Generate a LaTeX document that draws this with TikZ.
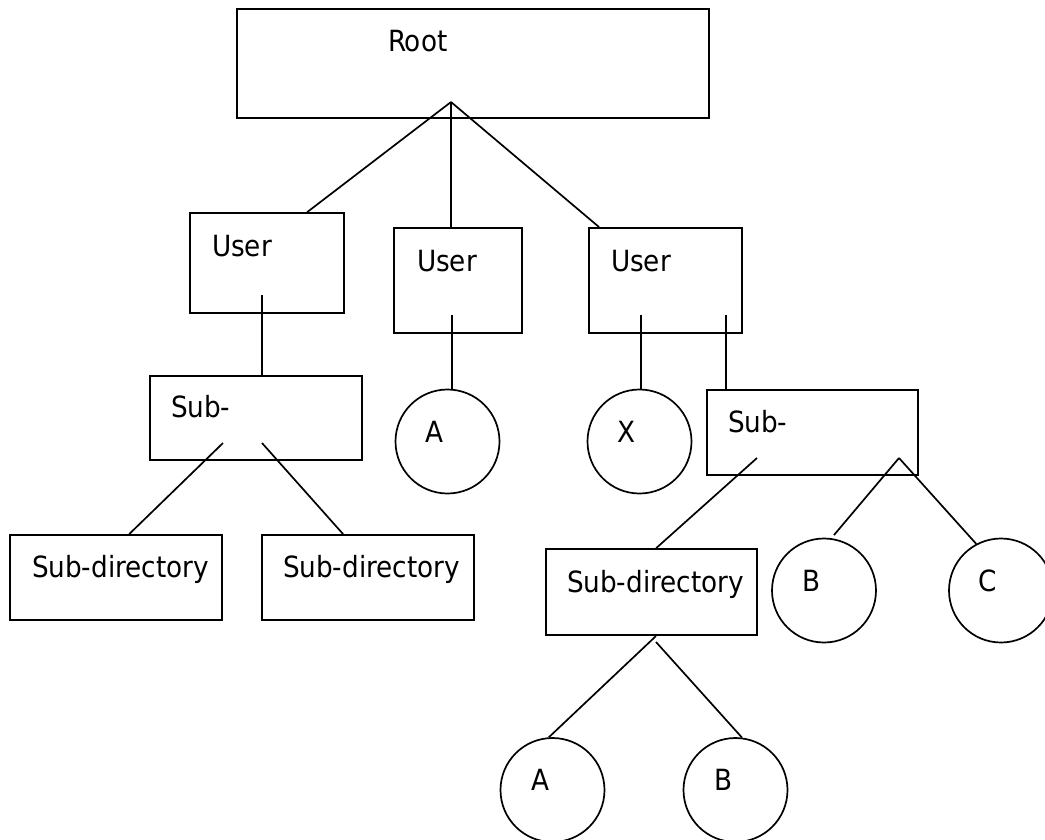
\documentclass[tikz,border=0pt]{standalone}
\usepackage{fontspec}
\setmainfont{DejaVu Sans Condensed}
\usetikzlibrary{calc}
\newcommand{\dirfont}{\fontsize{29.2}{35}\selectfont}

\begin{document}
\begin{tikzpicture}[x=1pt,y=-1pt,line width=1.7pt]
  \tikzstyle{dirbox}=[draw,rectangle,inner sep=0pt]
  \tikzstyle{filecircle}=[draw,circle,inner sep=0pt,minimum size=104pt]
  \tikzstyle{dirlabel}=[anchor=base west,inner sep=0pt,font=\dirfont]
  \tikzstyle{fileletter}=[inner sep=0pt,font=\dirfont]
  \useasboundingbox (0,0) rectangle (1045,839);

  % directories
  \node [dirbox,minimum width=472pt,minimum height=109pt] (root) at (473,63.5) {};
  \node [dirbox,minimum width=154pt,minimum height=100pt] (u1) at (267,263) {};
  \node [dirbox,minimum width=128pt,minimum height=105pt] (u2) at (458,280.5) {};
  \node [dirbox,minimum width=153pt,minimum height=105pt] (u3) at (665.5,280.5) {};
  \node [dirbox,minimum width=212pt,minimum height=84pt] (s1) at (256,418) {};
  \node [dirbox,minimum width=211pt,minimum height=85pt] (s2) at (812.5,432.5) {};
  \node [dirbox,minimum width=212pt,minimum height=85pt] (d1) at (116,577.5) {};
  \node [dirbox,minimum width=212pt,minimum height=85pt] (d2) at (368,577.5) {};
  \node [dirbox,minimum width=211pt,minimum height=86pt] (d3) at (651.5,592) {};

  \node [dirlabel] (root-t) at ($(root.north west)+(151,43)$) {Root};
  \node [dirlabel] (u1-t) at ($(u1.north west)+(22,44)$) {User};
  \node [dirlabel] (u2-t) at ($(u2.north west)+(23,44)$) {User};
  \node [dirlabel] (u3-t) at ($(u3.north west)+(22,44)$) {User};
  \node [dirlabel] (s1-t) at ($(s1.north west)+(21,42)$) {Sub-};
  \node [dirlabel] (s2-t) at ($(s2.north west)+(21,43)$) {Sub-};
  \node [dirlabel] (d1-t) at ($(d1.north west)+(22,43)$) {Sub-directory};
  \node [dirlabel] (d2-t) at ($(d2.north west)+(21,43)$) {Sub-directory};
  \node [dirlabel] (d3-t) at ($(d3.north west)+(21,44)$) {Sub-directory};

  % files
  \node [filecircle] (ca) at (447.5,441.5) {};
  \node [filecircle] (cx) at (639.5,441.5) {};
  \node [filecircle] (cb) at (824,590.5) {};
  \node [filecircle] (cc) at (1001,590.5) {};
  \node [filecircle] (ca2) at (552.5,790) {};
  \node [filecircle] (cb2) at (735.5,790) {};

  \node [fileletter] (ca-t) at ($(ca)+(-13,-10)$) {A};
  \node [fileletter] (cx-t) at ($(cx)+(-13,-10)$) {X};
  \node [fileletter] (cb-t) at ($(cb)+(-12,-10)$) {B};
  \node [fileletter] (cc-t) at ($(cc)+(-13,-10)$) {C};
  \node [fileletter] (ca2-t) at ($(ca2)+(-12,-10)$) {A};
  \node [fileletter] (cb2-t) at ($(cb2)+(-12,-10)$) {B};

  % links
  \coordinate (rootjoin) at (451,102);
  \coordinate (u1out) at (262,295);
  \coordinate (u2out) at (452,315);
  \coordinate (u3outx) at (641,315);
  \coordinate (u3outs) at (726,315);
  \coordinate (s1left) at (223,443);
  \coordinate (s1right) at (262,443);
  \coordinate (s2left) at (757,458);
  \coordinate (s2join) at (899,458);
  \coordinate (d3left) at (656,636);
  \coordinate (d3right) at (656,642);

  \draw (rootjoin) -- ($(u1.north west)+(118,0)$);
  \draw (rootjoin) -- (rootjoin |- u2.north);
  \draw (rootjoin) -- ($(u3.north west)+(11,0)$);
  \draw (u1out) -- (u1out |- s1.north);
  \draw (u2out) -- (u2out |- ca.north);
  \draw (u3outx) -- (u3outx |- cx.north);
  \draw (u3outs) -- (u3outs |- s2.north);
  \draw (s1left) -- ($(d1.north west)+(120,0)$);
  \draw (s1right) -- ($(d2.north west)+(82,0)$);
  \draw (s2left) -- ($(d3.north west)+(111,0)$);
  \draw [shorten >=4pt] (s2join) -- (cb.82);
  \draw (s2join) -- (cc.118);
  \draw (d3left) -- (ca2.94);
  \draw (d3right) -- (cb2.83);
\end{tikzpicture}
\end{document}
